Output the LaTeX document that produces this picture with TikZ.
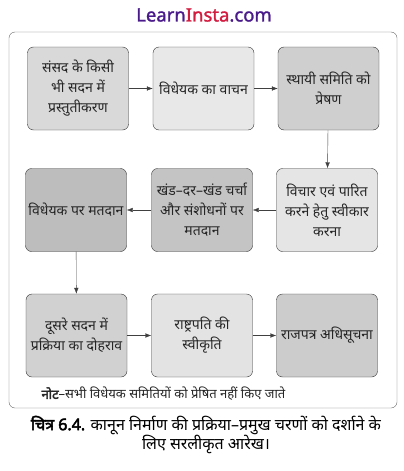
\documentclass[tikz,border=0pt]{standalone}
\usepackage{fontspec}
\newfontfamily\hindi[Script=Devanagari]{Noto Sans}
\newfontfamily\hindibf[Script=Devanagari,FakeBold=3]{Noto Sans}
\newfontfamily\logofont[FakeBold=1.5]{Noto Sans}
\usetikzlibrary{arrows.meta}
\definecolor{logopurple}{HTML}{4A1A8A}
\definecolor{logored}{HTML}{D21C40}
\begin{document}
\begin{tikzpicture}[x=1pt,y=-1pt,
  stage/.style={draw=black!80,rounded corners=6pt,minimum width=101pt,minimum height=83pt,
    inner sep=2pt,align=center,font=\hindi\fontsize{14}{20}\selectfont,text=black!85},
  flow/.style={draw=black!75,-{Latex[length=6pt,width=4.5pt]}}]
\useasboundingbox (0,0) rectangle (404,471);

\node (logo) at (204,15) {\logofont\fontsize{18.5}{18.5}\selectfont
  \textcolor{logopurple}{Learn}\textcolor{logored}{Insta}\textcolor{logopurple}{.com}};

\draw[black!60,rounded corners=6pt] (9,32) rectangle (397,408);

% first row
\node[stage,fill=black!15] (sansad) at (78,88.5) {संसद के किसी\\भी सदन में\\प्रस्तुतीकरण};
\node[stage,fill=black!9] (vachan) at (203.5,88.5) {विधेयक का वाचन};
\node[stage,fill=black!19] (samiti) at (328.5,88.5) {स्थायी समिति को\\प्रेषण};

% second row
\node[stage,fill=black!10] (vichar) at (327,210) {विचार एवं पारित\\करने हेतु स्वीकार\\करना};
\node[stage,fill=black!23] (khand) at (202,210) {खंड–दर–खंड चर्चा\\और संशोधनों पर\\मतदान};
\node[stage,fill=black!26] (matdan) at (76,210) {विधेयक पर मतदान};

% third row
\node[stage,fill=black!18] (doosra) at (76.5,335.5) {दूसरे सदन में\\प्रक्रिया का दोहराव};
\node[stage,fill=black!11] (rashtra) at (202,335.5) {राष्ट्रपति की\\स्वीकृति};
\node[stage,fill=black!20] (rajpatra) at (327,335.5) {राजपत्र अधिसूचना};

\draw[flow] (sansad) -- (vachan);
\draw[flow] (vachan) -- (samiti);
\draw[flow] (samiti) -- (vichar);
\draw[flow] (vichar) -- (khand);
\draw[flow] (khand) -- (matdan);
\draw[flow] (matdan) -- (doosra);
\draw[flow] (doosra) -- (rashtra);
\draw[flow] (rashtra) -- (rajpatra);

\node[anchor=west,font=\hindi\fontsize{13}{15}\selectfont,text=black!85] (note) at (38,394)
  {{\hindibf नोट}–सभी विधेयक समितियों को प्रेषित नहीं किए जाते};

\node[align=center,font=\hindi\fontsize{16}{18}\selectfont] (caption) at (206,435)
  {{\hindibf चित्र 6.4.} कानून निर्माण की प्रक्रिया–प्रमुख चरणों को दर्शाने के\\लिए सरलीकृत आरेख।};
\end{tikzpicture}
\end{document}
